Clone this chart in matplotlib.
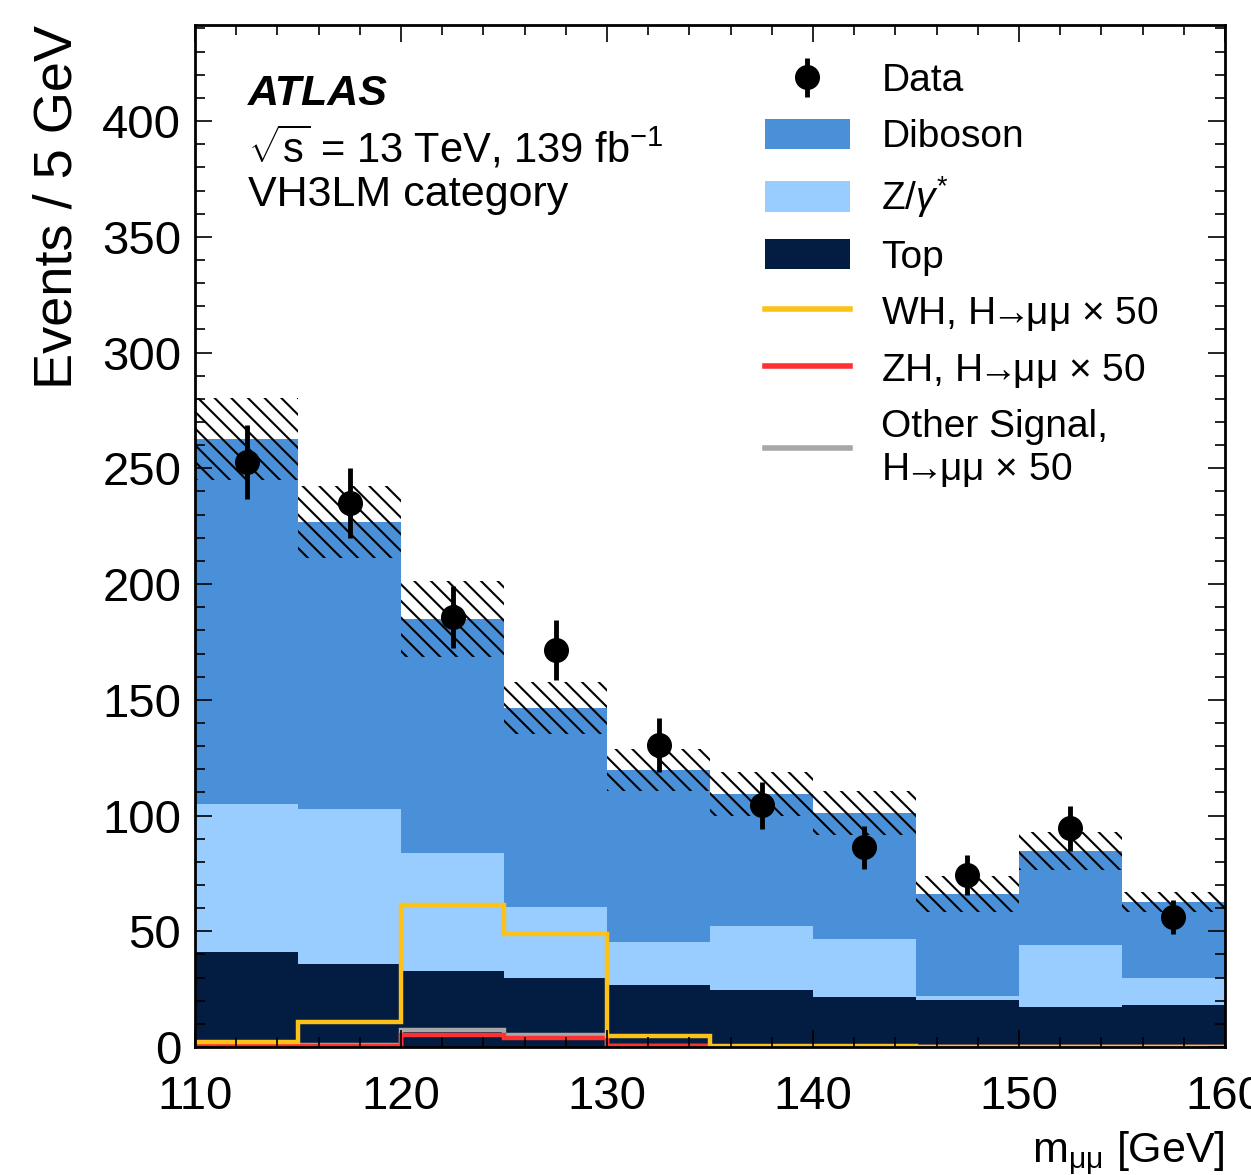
import numpy as np
import matplotlib
matplotlib.use("Agg")
import matplotlib.pyplot as plt
import matplotlib.ticker as ticker
from matplotlib.patches import Patch
from matplotlib.lines import Line2D

plt.rcParams.update({
    "font.family": ["Liberation Sans", "DejaVu Sans"],
    "mathtext.fontset": "custom",
    "mathtext.rm": "Liberation Sans",
    "mathtext.it": "Liberation Sans:italic",
    "mathtext.sf": "Liberation Sans",
    "hatch.linewidth": 1.5,
})

# --- data ---
edges = [110, 115, 120, 125, 130, 135, 140, 145, 150, 155, 160]
top = [41.0, 36.0, 33.0, 30.0, 27.0, 24.6, 21.6, 20.3, 17.3, 18.1]
zgamma = [64.0, 66.8, 50.8, 30.5, 18.4, 27.7, 25.1, 1.7, 26.7, 11.7]
diboson = [157.6, 124.0, 101.1, 85.9, 74.3, 57.0, 54.4, 44.1, 40.7, 32.8]
bkg_unc = [17.6, 15.7, 16.4, 11.2, 8.9, 9.7, 9.6, 7.8, 8.4, 4.2]
data = [252.7, 235.0, 185.7, 171.5, 130.5, 104.5, 86.4, 74.3, 94.6, 56.2]
data_err = [15.9, 15.3, 13.5, 13.0, 11.6, 10.2, 9.3, 8.6, 9.7, 7.4]
wh_x50 = [2.2, 10.8, 61.3, 48.8, 4.8, 0.5, 0.3, 0.2, 0.2, 0.2]
zh_x50 = [0.3, 0.4, 5.2, 3.9, 0.3, 0.1, 0.1, 0.1, 0.1, 0.1]
other_x50 = [0.9, 1.0, 7.3, 5.2, 0.5, 0.1, 0.1, 0.1, 0.1, 0.1]

C_DIB = "#4a90d9"
C_Z = "#99ccff"
C_TOP = "#021d41"
C_WH = "#fcc21a"
C_ZH = "#ff3030"
C_OTH = "#a8a8a8"

edges = np.array(edges, dtype=float)
top = np.array(top)
zgamma = np.array(zgamma)
diboson = np.array(diboson)
total = top + zgamma + diboson
centers = 0.5 * (edges[:-1] + edges[1:])

fig = plt.figure(figsize=(12.51, 11.75), dpi=100)
ax = fig.add_axes([0.1559, 0.1089, 0.9792 - 0.1559, 0.9787 - 0.1089])

# stacked backgrounds
ax.stairs(top, edges, baseline=0, fill=True, color=C_TOP, lw=0)
ax.stairs(top + zgamma, edges, baseline=top, fill=True, color=C_Z, lw=0)
ax.stairs(total, edges, baseline=top + zgamma, fill=True, color=C_DIB, lw=0)

# uncertainty band
unc = np.array(bkg_unc)
ax.bar(centers, 2 * unc, width=5, bottom=total - unc, fill=False,
       hatch="\\\\", edgecolor="black", linewidth=0)

# signals
ax.stairs(other_x50, edges, baseline=None, color=C_OTH, lw=3.2)
ax.stairs(zh_x50, edges, baseline=None, color=C_ZH, lw=3.2)
ax.stairs(wh_x50, edges, baseline=None, color=C_WH, lw=3.2)

# data
ax.errorbar(centers, data, yerr=data_err, fmt="o", color="black",
            ms=17, elinewidth=3.5, capsize=0, zorder=10)

ax.set_xlim(110, 160)
ax.set_ylim(0, 441.5)
ax.xaxis.set_major_locator(ticker.MultipleLocator(10))
ax.xaxis.set_minor_locator(ticker.MultipleLocator(2))
ax.yaxis.set_major_locator(ticker.MultipleLocator(50))
ax.yaxis.set_minor_locator(ticker.MultipleLocator(10))
ax.tick_params(which="both", direction="in", top=True, right=True,
               labelsize=34, width=1.2)
ax.tick_params(which="major", length=12)
ax.tick_params(which="minor", length=7)
ax.tick_params(axis="x", pad=20)
ax.tick_params(axis="y", pad=10)
for s in ax.spines.values():
    s.set_linewidth(2)

ax.set_ylabel("Events / 5 GeV", fontsize=39, loc="top", labelpad=14)
ax.set_xlabel(r"m$_{\mathrm{μμ}}$ [GeV]", fontsize=31, loc="right",
              labelpad=8)

# ATLAS label
ax.text(0.0515, 0.933, "ATLAS", transform=ax.transAxes, fontsize=31,
        fontweight="bold", fontstyle="italic", va="center")
ax.text(0.0515, 0.880, r"$\sqrt{\mathrm{s}}$ = 13 TeV, 139 fb$^{\mathrm{-1}}$",
        transform=ax.transAxes, fontsize=30, va="center")
ax.text(0.0515, 0.834, "VH3LM category", transform=ax.transAxes,
        fontsize=31, va="center")

# legend
data_handle = ax.errorbar([], [], yerr=[], fmt="o", color="black", ms=17,
                          elinewidth=3.5)
handles = [
    data_handle,
    Patch(color=C_DIB, lw=0),
    Patch(color=C_Z, lw=0),
    Patch(color=C_TOP, lw=0),
    Line2D([], [], color=C_WH, lw=4),
    Line2D([], [], color=C_ZH, lw=4),
    Line2D([], [], color=C_OTH, lw=4),
]
arrow = r"H$\!\!\rightarrow\!\!$μμ $\times$ 50"
labels = ["Data", "Diboson", r"Z/$\gamma^{*}$", "Top",
          "WH, " + arrow, "ZH, " + arrow, "Other Signal,\n" + arrow]
ax.legend(handles, labels, loc="upper left", bbox_to_anchor=(0.553, 0.963),
          frameon=False, fontsize=28, handlelength=2.2, handleheight=0.82,
          handletextpad=0.8, labelspacing=0.49, borderpad=0, borderaxespad=0)

fig.savefig("out.png", dpi=100)
